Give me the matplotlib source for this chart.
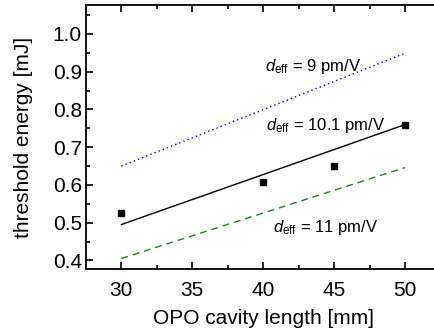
import matplotlib.pyplot as plt
from matplotlib.ticker import MultipleLocator

plt.rcParams['font.family'] = ['Liberation Sans', 'DejaVu Sans']
plt.rcParams['mathtext.fontset'] = 'custom'
plt.rcParams['mathtext.rm'] = 'Liberation Sans'
plt.rcParams['mathtext.it'] = 'Liberation Sans:italic'

# measured data
length = [30, 40, 45, 50]
energy = [0.525, 0.609, 0.650, 0.758]

# calculated thresholds (endpoints at 30 and 50 mm)
calc_x = [30, 50]
calc_9 = [0.650, 0.949]
calc_101 = [0.495, 0.760]
calc_11 = [0.405, 0.646]

fig = plt.figure(figsize=(4.34, 3.31), dpi=100)
ax = fig.add_axes([0.198, 0.186, 0.817, 0.798])

ax.plot(calc_x, calc_9, color='blue', linestyle=(0, (1, 2.2)), linewidth=1.0)
ax.plot(calc_x, calc_101, color='black', linestyle='-', linewidth=1.0)
ax.plot(calc_x, calc_11, color='#1a8a1a', linestyle=(0, (5, 3.5)), linewidth=1.0)
ax.plot(length, energy, 's', color='black', markersize=4.5, clip_on=False)

ax.text(40.13, 0.902, r'$d_{\mathrm{eff}}$ = 9 pm/V', fontsize=12, va='baseline')
ax.text(40.2, 0.745, r'$d_{\mathrm{eff}}$ = 10.1 pm/V', fontsize=12, va='baseline')
ax.text(40.72, 0.476, r'$d_{\mathrm{eff}}$ = 11 pm/V', fontsize=12, va='baseline')

ax.set_xlim(27.5, 52.5)
ax.set_ylim(0.376, 1.076)
ax.xaxis.set_major_locator(MultipleLocator(5))
ax.xaxis.set_minor_locator(MultipleLocator(2.5))
ax.yaxis.set_major_locator(MultipleLocator(0.1))
ax.yaxis.set_minor_locator(MultipleLocator(0.05))
ax.yaxis.set_major_formatter(plt.FuncFormatter(lambda v, p: f'{v:.1f}'))

ax.tick_params(which='both', direction='in', top=True, right=True, width=1.2)
ax.tick_params(which='major', length=5, labelsize=15)
ax.tick_params(which='minor', length=3)
ax.tick_params(axis='x', which='major', pad=8)
ax.tick_params(axis='y', which='major', pad=3)
for s in ax.spines.values():
    s.set_linewidth(1.3)

ax.set_xlabel('OPO cavity length [mm]', fontsize=15, labelpad=7)
ax.set_ylabel('threshold energy [mJ]', fontsize=15, labelpad=14)

fig.savefig('out.png', dpi=100)
